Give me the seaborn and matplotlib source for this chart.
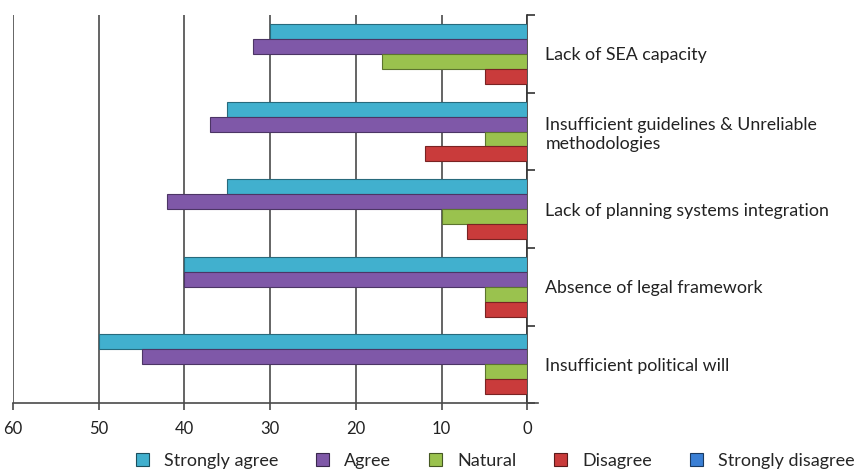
import matplotlib
matplotlib.use("Agg")
import matplotlib.pyplot as plt
import matplotlib.colors as mcolors
from matplotlib.patches import Patch
from matplotlib.ticker import FixedLocator
import seaborn as sns
import pandas as pd

# Barriers (top to bottom) and responses per level
barriers = [
    "Lack of SEA capacity",
    "Insufficient guidelines & Unreliable\nmethodologies",
    "Lack of planning systems integration",
    "Absence of legal framework",
    "Insufficient political will",
]
strongly_agree = [30, 35, 35, 40, 50]
agree = [32, 37, 42, 40, 45]
natural = [17, 5, 10, 5, 5]
disagree = [5, 12, 7, 5, 5]

levels = ["Strongly agree", "Agree", "Natural", "Disagree"]
legend_labels = ["Strongly agree", "Agree", "Natural", "Disagree", "Strongly disagree"]
colors = ["#41B0CE", "#7F58A8", "#9AC24E", "#C93B3B", "#3A7FD5"]
x_ticks = [60, 50, 40, 30, 20, 10, 0]

rows = []
for lvl, vals in zip(levels, [strongly_agree, agree, natural, disagree]):
    for b, v in zip(barriers, vals):
        rows.append({"barrier": b, "level": lvl, "value": v})
df = pd.DataFrame(rows)

sns.set_theme(style="white")
plt.rcParams["font.family"] = ["Lato", "DejaVu Sans"]

fig = plt.figure(figsize=(8.66, 4.71), dpi=100)
ax = fig.add_axes([0.015, 0.144, 0.594, 0.824])

sns.barplot(data=df, y="barrier", x="value", hue="level", order=barriers,
            hue_order=levels, palette=colors[:4], orient="h", width=0.77,
            saturation=1, legend=False, ax=ax, zorder=3)

# darker outline on each bar
for cont, col in zip(ax.containers, colors[:4]):
    dark = tuple(c * 0.6 for c in mcolors.to_rgb(col))
    for p in cont:
        p.set_edgecolor(dark)
        p.set_linewidth(0.8)

ax.set_xlim(60, 0)
ax.set_ylim(4.5, -0.5)
ax.set_xticks(x_ticks)
ax.set_xticklabels([str(t) for t in x_ticks], fontsize=12, color="#222222")
ax.xaxis.grid(True, color="#4a4a4a", linewidth=1.2, zorder=0)
ax.yaxis.grid(False)

for s in ["top", "left"]:
    ax.spines[s].set_visible(False)
ax.spines["right"].set_color("#333333")
ax.spines["right"].set_linewidth(1.2)
ax.spines["bottom"].set_color("#4a4a4a")
ax.spines["bottom"].set_linewidth(1.2)
ax.spines["bottom"].set_bounds(60, -1.2)

ax.tick_params(axis="x", direction="out", length=5, width=1.2, color="#4a4a4a", pad=8,
               bottom=True)

# category labels on the right, boundary ticks as minor ticks
ax.yaxis.tick_right()
ax.yaxis.set_label_position("right")
ax.yaxis.set_minor_locator(FixedLocator([-0.5, 0.5, 1.5, 2.5, 3.5, 4.5]))
ax.tick_params(axis="y", which="minor", right=True, direction="out", length=6,
               width=1.2, color="#333333")
ax.tick_params(axis="y", which="major", right=False, length=0, pad=13)
for lbl in ax.get_yticklabels():
    lbl.set_fontsize(12.8)
    lbl.set_color("#222222")
    lbl.set_horizontalalignment("left")
ax.set_xlabel("")
ax.set_ylabel("")

handles = [Patch(facecolor=c, edgecolor=tuple(v * 0.45 for v in mcolors.to_rgb(c)),
                 linewidth=0.8) for c in colors]
fig.legend(handles, legend_labels, loc="lower center", bbox_to_anchor=(0.572, -0.03),
           ncol=5, frameon=False, fontsize=13, handlelength=0.7, handleheight=0.7,
           columnspacing=2.1, handletextpad=0.85)

fig.savefig("out.png", dpi=100)
